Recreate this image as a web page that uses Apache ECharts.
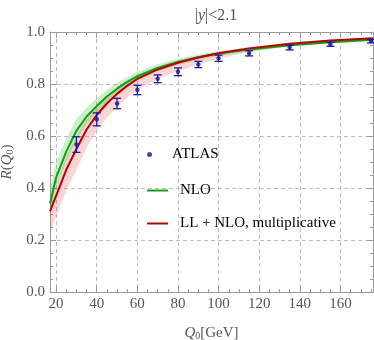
<!DOCTYPE html>
<html>
<head>
<meta charset="utf-8">
<script src="https://cdn.jsdelivr.net/npm/echarts@6/dist/echarts.min.js"></script>
<style>html,body{margin:0;padding:0;background:#fff;}#c{width:374px;height:340px;}</style>
</head>
<body>
<div id="c"></div>
<script>
// ---- data ----
var qGrid = [17, 20, 25, 30, 35, 40, 45, 50, 55, 60, 70, 80, 90, 100, 115, 135, 155, 176];
var nlo   = [0.34, 0.44, 0.54, 0.62, 0.675, 0.715, 0.752, 0.782, 0.808, 0.830, 0.862, 0.885, 0.903, 0.917, 0.933, 0.949, 0.961, 0.970];
var nloHi = [0.40, 0.50, 0.59, 0.665, 0.71, 0.745, 0.777, 0.804, 0.827, 0.847, 0.876, 0.897, 0.913, 0.926, 0.940, 0.955, 0.966, 0.974];
var nloLo = [0.30, 0.40, 0.50, 0.585, 0.645, 0.685, 0.727, 0.760, 0.789, 0.813, 0.848, 0.873, 0.893, 0.908, 0.926, 0.944, 0.957, 0.966];
var ll    = [0.31, 0.37, 0.47, 0.55, 0.625, 0.68, 0.725, 0.762, 0.793, 0.820, 0.856, 0.882, 0.902, 0.918, 0.937, 0.955, 0.967, 0.976];
var llHi  = [0.34, 0.41, 0.52, 0.60, 0.665, 0.71, 0.75, 0.782, 0.81, 0.835, 0.867, 0.891, 0.909, 0.924, 0.942, 0.959, 0.970, 0.978];
var llLo  = [0.22, 0.29, 0.39, 0.47, 0.555, 0.62, 0.67, 0.712, 0.748, 0.778, 0.82, 0.85, 0.875, 0.898, 0.923, 0.945, 0.960, 0.972];

var atlasQ   = [30, 40, 50, 60, 70, 80, 90, 100, 115, 135, 155, 175];
var atlasR   = [0.567, 0.664, 0.725, 0.777, 0.820, 0.847, 0.875, 0.899, 0.918, 0.940, 0.953, 0.965];
var atlasErr = [0.030, 0.025, 0.020, 0.018, 0.015, 0.015, 0.012, 0.012, 0.010, 0.009, 0.008, 0.007];

var xMajor = [20, 40, 60, 80, 100, 120, 140, 160];
var xMinor = [25, 30, 35, 45, 50, 55, 65, 70, 75, 85, 90, 95, 105, 110, 115, 125, 130, 135, 145, 150, 155, 165, 170, 175];

var titleText = '|{i|y}|<2.1';
var xName = '{i|Q}{s|0}[GeV]';
var yName = '{i|R}({i|Q}{s|0})';

// ---- chart ----
var FONT = '"Liberation Serif","Times New Roman",serif';
var GRAY = '#555';
var AX = '#9a9a9a';
var LINE_ICON = 'path://M0,0H21V2H0Z';
var chart = echarts.init(document.getElementById('c'), null, {renderer: 'canvas'});

function pairs(xs, ys) { return xs.map(function (x, i) { return [x, ys[i]]; }); }

function bandSeries(name, hi, lo, color) {
  return {
    type: 'custom', name: name, silent: true, clip: true, z: 1,
    data: [0],
    renderItem: function (params, api) {
      var pts = [];
      for (var i = 0; i < qGrid.length; i++) pts.push(api.coord([qGrid[i], hi[i]]));
      for (var j = qGrid.length - 1; j >= 0; j--) pts.push(api.coord([qGrid[j], lo[j]]));
      return {type: 'polygon', shape: {points: pts}, style: {fill: color}};
    }
  };
}

var tickBase = {show: true, inside: true, lineStyle: {color: AX, width: 1}};
var legendText = {fontFamily: FONT, fontSize: 15, color: '#000', padding: [0, 0, 0, 7]};

var option = {
  animation: false,
  backgroundColor: '#fff',
  title: {
    text: titleText, left: 211, top: 3, textAlign: 'center',
    textStyle: {fontFamily: FONT, fontSize: 16, fontWeight: 'normal', color: GRAY,
      rich: {i: {fontFamily: FONT, fontSize: 16, fontStyle: 'italic', color: GRAY}}}
  },
  grid: {left: 50, right: 1, top: 32, bottom: 48, containLabel: false, outerBoundsMode: 'none'},
  legend: [
    {data: [{name: 'ATLAS', icon: 'circle'}], left: 142, top: 142, itemWidth: 21, itemHeight: 5, textStyle: legendText},
    {data: [{name: 'NLO', icon: LINE_ICON}], left: 142, top: 178, itemWidth: 21, itemHeight: 5, textStyle: legendText},
    {data: [{name: 'LL + NLO, multiplicative', icon: LINE_ICON}], left: 142, top: 211, itemWidth: 21, itemHeight: 5, textStyle: legendText}
  ],
  xAxis: [
    {type: 'value', position: 'bottom', min: 17, max: 176,
      axisLine: {show: true, lineStyle: {color: AX}},
      axisTick: Object.assign({length: 6, customValues: xMajor}, tickBase),
      axisLabel: {customValues: xMajor, fontFamily: FONT, fontSize: 15, color: GRAY, margin: 5},
      splitLine: {show: true, lineStyle: {color: '#bdbdbd', type: [4, 3], width: 1}},
      name: xName, nameLocation: 'middle', nameGap: 33,
      nameTextStyle: {fontFamily: FONT, fontSize: 15, color: GRAY,
        rich: {i: {fontFamily: FONT, fontSize: 15, fontStyle: 'italic', color: GRAY},
               s: {fontFamily: FONT, fontSize: 10, color: GRAY, verticalAlign: 'bottom', padding: [6, 0, 0, 0]}}}
    },
    {type: 'value', position: 'bottom', min: 17, max: 176,
      axisLine: {show: false}, axisLabel: {show: false}, splitLine: {show: false},
      axisTick: Object.assign({length: 3, customValues: xMinor}, tickBase)},
    {type: 'value', position: 'top', min: 17, max: 176,
      axisLine: {show: true, lineStyle: {color: AX}}, axisLabel: {show: false}, splitLine: {show: false},
      axisTick: Object.assign({length: 6, customValues: xMajor}, tickBase)},
    {type: 'value', position: 'top', min: 17, max: 176,
      axisLine: {show: false}, axisLabel: {show: false}, splitLine: {show: false},
      axisTick: Object.assign({length: 3, customValues: xMinor}, tickBase)}
  ],
  yAxis: [
    {type: 'value', position: 'left', min: 0, max: 1, interval: 0.2,
      axisLine: {show: true, lineStyle: {color: AX}},
      axisTick: Object.assign({length: 6}, tickBase),
      minorTick: {show: true, splitNumber: 4, length: 3, lineStyle: {color: AX}},
      axisLabel: {fontFamily: FONT, fontSize: 15, color: GRAY, margin: 5,
        formatter: function (v) { return v.toFixed(1); }},
      splitLine: {show: true, lineStyle: {color: '#bdbdbd', type: [4, 3], width: 1}},
      name: yName, nameLocation: 'middle', nameGap: 30, nameRotate: 90,
      nameTextStyle: {fontFamily: FONT, fontSize: 15, color: GRAY,
        rich: {i: {fontFamily: FONT, fontSize: 15, fontStyle: 'italic', color: GRAY},
               s: {fontFamily: FONT, fontSize: 10, color: GRAY, verticalAlign: 'bottom', padding: [6, 0, 0, 0]}}}
    },
    {type: 'value', position: 'right', min: 0, max: 1, interval: 0.2,
      axisLine: {show: true, lineStyle: {color: AX}}, axisLabel: {show: false}, splitLine: {show: false},
      axisTick: Object.assign({length: 6}, tickBase),
      minorTick: {show: true, splitNumber: 4, length: 3, lineStyle: {color: AX}}}
  ],
  series: [
    bandSeries('nloBand', nloHi, nloLo, 'rgba(60,200,60,0.28)'),
    bandSeries('llBand', llHi, llLo, 'rgba(225,70,70,0.22)'),
    {type: 'line', name: 'NLO', data: pairs(qGrid, nlo), symbol: 'none', z: 3,
      lineStyle: {color: '#12a012', width: 2}, itemStyle: {color: '#12a012'}},
    {type: 'line', name: 'LL + NLO, multiplicative', data: pairs(qGrid, ll), symbol: 'none', z: 4,
      lineStyle: {color: '#b80000', width: 2}, itemStyle: {color: '#b80000'}},
    {type: 'custom', name: 'ATLAS err', z: 5, clip: false,
      data: atlasQ.map(function (q, i) { return [q, atlasR[i] - atlasErr[i], atlasR[i] + atlasErr[i]]; }),
      renderItem: function (params, api) {
        var lo = api.coord([api.value(0), api.value(1)]);
        var hi = api.coord([api.value(0), api.value(2)]);
        var w = 4;
        var st = {stroke: '#1a1aa0', lineWidth: 1.3};
        return {type: 'group', children: [
          {type: 'line', shape: {x1: lo[0], y1: lo[1], x2: hi[0], y2: hi[1]}, style: st},
          {type: 'line', shape: {x1: lo[0] - w, y1: lo[1], x2: lo[0] + w, y2: lo[1]}, style: st},
          {type: 'line', shape: {x1: hi[0] - w, y1: hi[1], x2: hi[0] + w, y2: hi[1]}, style: st}
        ]};
      }},
    {type: 'scatter', name: 'ATLAS', data: pairs(atlasQ, atlasR), symbol: 'circle', symbolSize: 4.5, z: 6,
      itemStyle: {color: '#1a1aa0'}}
  ]
};
chart.setOption(option);
</script>
</body>
</html>
